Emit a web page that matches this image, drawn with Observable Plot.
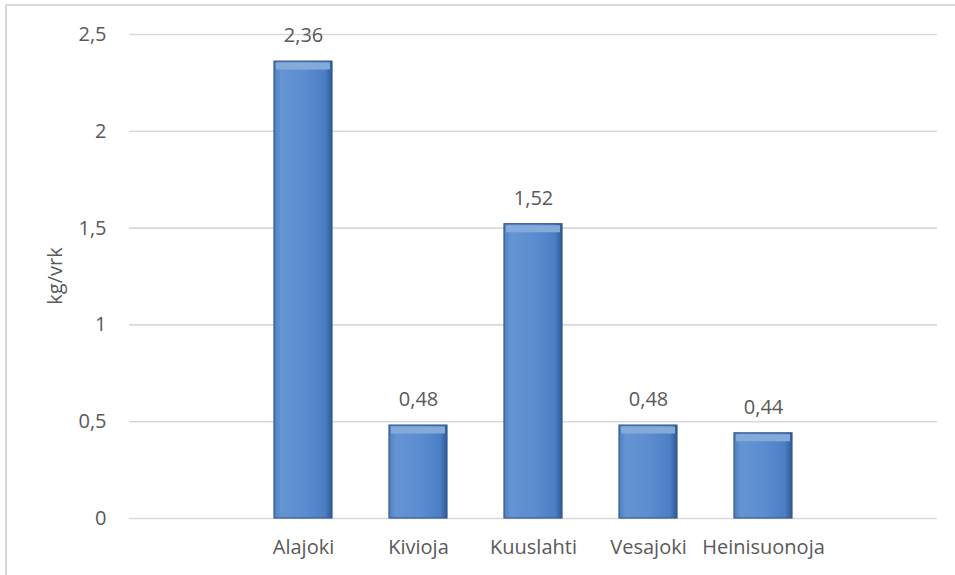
<!DOCTYPE html>
<html>
<head>
<meta charset="utf-8">
<script src="https://cdn.jsdelivr.net/npm/d3@7"></script>
<script src="https://cdn.jsdelivr.net/npm/@observablehq/plot@0.6"></script>
<style>
  html, body { margin: 0; padding: 0; background: #fff; width: 955px; height: 575px; overflow: hidden; }
  #frame { position: absolute; left: 5px; top: 4px; width: 2000px; height: 2000px; border-left: 2px solid #d9d9d9; border-top: 2px solid #d9d9d9; }
  #chart { position: absolute; left: 0; top: 0; }
</style>
</head>
<body>
<div id="frame"></div>
<div id="chart"></div>
<script>
const categories = ["", "Alajoki", "Kivioja", "Kuuslahti", "Vesajoki", "Heinisuonoja", " "];
const sites = ["Alajoki", "Kivioja", "Kuuslahti", "Vesajoki", "Heinisuonoja"];
const values = [2.36, 0.48, 1.52, 0.48, 0.44];
const yTicks = [0, 0.5, 1, 1.5, 2, 2.5];
const yLabel = "kg/vrk";

const data = sites.map((s, i) => ({site: s, value: values[i]}));
const fi = d3.formatLocale({decimal: ",", thousands: " ", grouping: [3], currency: ["", "€"]});
const fmt = v => fi.format("~g")(v);
const fmt2 = fi.format(".2f");

const font = "'Open Sans', sans-serif";
const textColor = "#595959";

const plot = Plot.plot({
  width: 955,
  height: 575,
  marginLeft: 129,
  marginRight: 18,
  marginTop: 34,
  marginBottom: 57,
  style: {fontFamily: font, fontSize: "20px", color: textColor, background: "transparent"},
  x: {domain: categories, paddingInner: 0.5, paddingOuter: 0.25, label: null, tickSize: 0, tickPadding: 21},
  y: {domain: [0, 2.5], ticks: yTicks, tickFormat: fmt, tickSize: 0, tickPadding: 23, label: null},
  marks: [
    Plot.gridY(yTicks, {stroke: "#d9d9d9", strokeOpacity: 1, strokeWidth: 1.6}),
    Plot.barY(data, {x: "site", y: "value", fill: "url(#barGrad)", stroke: "#35598c", strokeWidth: 1.2,
      style: {filter: "drop-shadow(1px 2px 2px rgba(0,0,0,0.35))"}}),
    Plot.tickY(data, {x: "site", y: "value", stroke: "#84aadb", strokeWidth: 7, dy: 4.5, inset: 2}),
    Plot.text(data, {x: "site", y: "value", text: d => fmt2(d.value), dy: -26, fill: textColor, fontSize: 20, fontFamily: font})
  ]
});

// gradient definition for bars
const ns = "http://www.w3.org/2000/svg";
const defs = document.createElementNS(ns, "defs");
const grad = document.createElementNS(ns, "linearGradient");
grad.setAttribute("id", "barGrad");
grad.setAttribute("x1", "0"); grad.setAttribute("y1", "0");
grad.setAttribute("x2", "1"); grad.setAttribute("y2", "0");
[["0%", "#4c7fc2"], ["12%", "#6594d2"], ["55%", "#5a8ccf"], ["88%", "#4b7ec3"], ["100%", "#2f5a96"]].forEach(([o, c]) => {
  const s = document.createElementNS(ns, "stop");
  s.setAttribute("offset", o); s.setAttribute("stop-color", c);
  grad.appendChild(s);
});
defs.appendChild(grad);
plot.insertBefore(defs, plot.firstChild);

// y axis label
const lbl = document.createElementNS(ns, "text");
lbl.setAttribute("transform", "translate(54,276) rotate(-90)");
lbl.setAttribute("text-anchor", "middle");
lbl.setAttribute("dominant-baseline", "central");
lbl.setAttribute("fill", textColor);
lbl.setAttribute("font-family", font);
lbl.setAttribute("font-size", "20");
lbl.textContent = yLabel;
plot.appendChild(lbl);

document.getElementById("chart").appendChild(plot);
</script>
</body>
</html>
